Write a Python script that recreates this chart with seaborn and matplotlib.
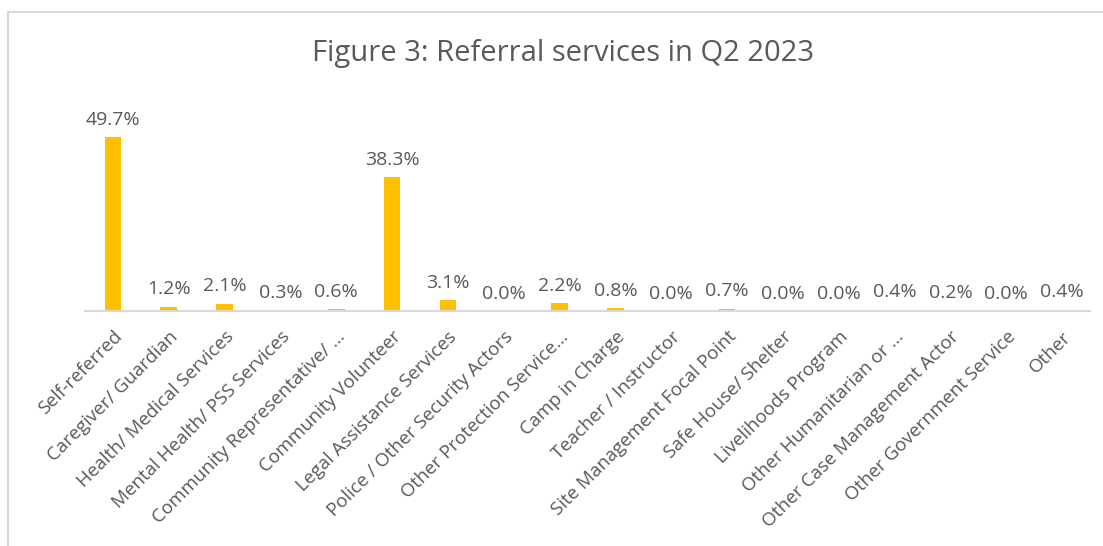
import pandas as pd
import seaborn as sns
import matplotlib.pyplot as plt
from matplotlib.patches import Rectangle

# data
categories = ['Self-referred', 'Caregiver/ Guardian', 'Health/ Medical Services',
              'Mental Health/ PSS Services', 'Community Representative/ ...',
              'Community Volunteer', 'Legal Assistance Services',
              'Police / Other Security Actors', 'Other Protection Service...',
              'Camp in Charge', 'Teacher / Instructor', 'Site Management Focal Point',
              'Safe House/ Shelter', 'Livelihoods Program', 'Other Humanitarian or ...',
              'Other Case Management Actor', 'Other Government Service', 'Other']
shares = [49.7, 1.2, 2.1, 0.3, 0.6, 38.3, 3.1, 0.0, 2.2, 0.8, 0.0, 0.7, 0.0, 0.0,
          0.4, 0.2, 0.0, 0.4]
title = 'Figure 3: Referral services in Q2 2023'

sns.set_theme(style='white')
plt.rcParams['font.family'] = ['Open Sans', 'DejaVu Sans']
txt = '#595959'

df = pd.DataFrame({'service': categories, 'share': shares})

fig = plt.figure(figsize=(11.03, 5.46), dpi=100)
ax = fig.add_axes([85 / 1103, 235 / 546, 1005 / 1103, 210 / 546])

sns.barplot(data=df, x='service', y='share', color='#FFC000', saturation=1,
            width=0.3, linewidth=0, ax=ax)
ax.set_ylim(0, 60)
ax.set_xlim(-0.5, len(categories) - 0.5)

ax.bar_label(ax.containers[0], labels=[f'{v:.1f}%' for v in shares],
             padding=6, fontsize=14, color=txt)

ax.set_xlabel('')
ax.set_ylabel('')
ax.set_yticks([])
ax.tick_params(axis='x', length=0, pad=12)
ax.set_xticks(range(len(categories)))
ax.set_xticklabels(categories, rotation=45, ha='right', rotation_mode='anchor',
                   fontsize=13.5, color=txt)
for s in ['top', 'right', 'left']:
    ax.spines[s].set_visible(False)
ax.spines['bottom'].set_color('#D9D9D9')
ax.spines['bottom'].set_linewidth(1.5)

fig.text(563 / 1103, 1 - 53 / 546, title, ha='center', va='center',
         fontsize=21, color=txt)

# chart frame
fig.patches.append(Rectangle((8 / 1103, -0.1), 1.1, 1 - 12 / 546 + 0.1,
                             transform=fig.transFigure, fill=False,
                             edgecolor='#D9D9D9', linewidth=1.5))

fig.savefig('out.png', dpi=100)
